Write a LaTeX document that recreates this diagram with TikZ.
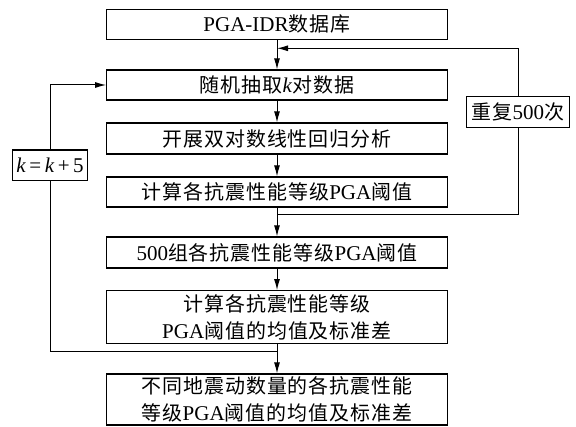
\documentclass[tikz,border=0pt]{standalone}
\usepackage{fontspec}
\setmainfont{Liberation Serif}
\newfontfamily\cjk[Scale=0.95,LetterSpace=5]{Noto Sans CJK SC}
\usetikzlibrary{arrows.meta}
\begin{document}
\begin{tikzpicture}[x=1pt,y=-1pt,
  every node/.style={font=\fontsize{21}{27}\selectfont},
  box/.style={draw,line width=1.2pt,minimum width=340.6pt,inner sep=0pt,align=center,fill=white},
  tag/.style={draw,line width=1.2pt,inner sep=0pt,fill=white},
  conn/.style={line width=1pt},
  arr/.style={conn,-{Latex[length=11pt,width=6pt]}}]
\useasboundingbox (0,0) rectangle (576,427);
\node[box,minimum height=30pt] (b1) at (277,24.3) {PGA-IDR{\cjk 数据库}};
\node[box,minimum height=30pt] (b2) at (277,85) {{\cjk 随机抽取}\textit{k}{\cjk 对数据}};
\node[box,minimum height=31pt] (b3) at (277,138.5) {\cjk 开展双对数线性回归分析};
\node[box,minimum height=30pt] (b4) at (277,192) {{\cjk 计算各抗震性能等级}PGA{\cjk 阈值}};
\node[box,minimum height=31pt] (b5) at (277,252.5) {500{\cjk 组各抗震性能等级}PGA{\cjk 阈值}};
\node[box,minimum height=53pt] (b6) at (277,317.2) {{\cjk 计算各抗震性能等级}\\PGA{\cjk 阈值的均值及标准差}};
\node[box,minimum height=51pt] (b7) at (277,399.5) {{\cjk 不同地震动数量的各抗震性能}\\{\cjk 等级}PGA{\cjk 阈值的均值及标准差}};
\node[tag,minimum width=103.3pt,minimum height=30.6pt] (rep) at (518,112) {{\cjk 重复}500{\cjk 次}};
\node[tag,minimum width=75pt,minimum height=30.7pt] (kb) at (50,165.3) {\textit{k}\,=\,\textit{k}\,+\,5};
\coordinate (r1) at (277,215);
\coordinate (r4) at (277,48.3);
\coordinate (l1) at (277,352);
\draw[arr] (b1) -- (b2);
\draw[arr] (b2) -- (b3);
\draw[arr] (b3) -- (b4);
\draw[arr] (b4) -- (b5);
\draw[arr] (b5) -- (b6);
\draw[arr] (b6) -- (b7);
\draw[conn] (b4.south) -- (r1) -| (rep.south);
\draw[arr] (rep.north) |- (r4);
\draw[conn] (b6.south) -- (l1) -| (kb.south);
\draw[arr] (kb.north) |- (b2.west);
\end{tikzpicture}
\end{document}
